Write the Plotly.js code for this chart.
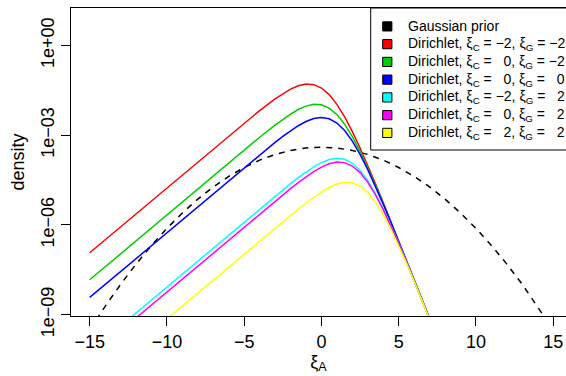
<!DOCTYPE html>
<html><head><meta charset="utf-8">
<script src="https://cdn.plot.ly/plotly-3.0.1.min.js"></script>
<style>html,body{margin:0;padding:0;background:#fff;} #chart{width:566px;height:376px;}</style>
</head><body><div id="chart"></div>
<script>
// x grid (xi_A) for the Dirichlet curves
const xiDir = [-15, -10, -6, -4, -3, -2.5, -2, -1.5, -1, -0.5, 0, 0.5, 1, 1.5, 2, 2.5, 3, 3.5, 4, 4.5, 5, 5.5, 6, 7, 8];
// log10(density)
const redLog10 = [-6.9305, -4.7591, -3.0253, -2.1782, -1.7858, -1.6106, -1.4606, -1.3486, -1.2922, -1.3112, -1.4246, -1.6441, -1.9691, -2.3880, -2.8814, -3.4296, -4.0152, -4.6255, -5.2514, -5.8873, -6.5292, -7.1748, -7.8227, -9.1222, -10.4238];
const greenLog10 = [-7.8323, -5.6608, -3.9257, -3.0699, -2.6608, -2.4691, -2.2932, -2.1419, -2.0283, -1.9693, -1.9851, -2.0947, -2.3100, -2.6313, -3.0467, -3.5378, -4.0841, -4.6687, -5.2782, -5.9037, -6.5393, -7.1809, -7.8263, -9.1236, -10.4242];
const blueLog10 = [-8.4229, -6.2514, -4.5157, -3.6563, -3.2400, -3.0411, -2.8537, -2.6845, -2.5437, -2.4455, -2.4082, -2.4522, -2.5948, -2.8446, -3.1977, -3.6397, -4.1505, -4.7108, -5.3044, -5.9199, -6.5491, -7.1870, -7.8301, -9.1250, -10.4247];
const cyanLog10 = [-10.2371, -8.0655, -6.3290, -5.4636, -5.0357, -4.8250, -4.6186, -4.4189, -4.2303, -4.0592, -3.9153, -3.8127, -3.7692, -3.8052, -3.9385, -4.1788, -4.5232, -4.9580, -5.4635, -6.0202, -6.6114, -7.2253, -7.8536, -9.1336, -10.4280];
const magentaLog10 = [-10.4049, -8.2334, -6.4967, -5.6311, -5.2026, -4.9913, -4.7839, -4.5827, -4.3916, -4.2163, -4.0663, -3.9544, -3.8979, -3.9170, -4.0304, -4.2498, -4.5749, -4.9937, -5.4872, -6.0354, -6.6210, -7.2313, -7.8572, -9.1350, -10.4285];
const yellowLog10 = [-11.3066, -9.1351, -7.3983, -6.5314, -6.1006, -5.8869, -5.6757, -5.4680, -5.2666, -5.0748, -4.8990, -4.7478, -4.6340, -4.5751, -4.5909, -4.7005, -4.9157, -5.2370, -5.6525, -6.1436, -6.6899, -7.2744, -7.8839, -9.1450, -10.4322];

// Gaussian prior
const xiGauss = [-15, -14, -13, -12, -11, -10, -9, -8, -7, -6, -5, -4, -3, -2, -1, 0, 1, 2, 3, 4, 5, 6, 7, 8, 9, 10, 11, 12, 13, 14, 15];
const gaussLog10 = [-9.507, -8.720, -7.987, -7.309, -6.684, -6.114, -5.599, -5.137, -4.730, -4.377, -4.079, -3.834, -3.644, -3.509, -3.427, -3.400, -3.427, -3.509, -3.644, -3.834, -4.079, -4.377, -4.730, -5.137, -5.599, -6.114, -6.684, -7.309, -7.987, -8.720, -9.507];

const seriesNames = [
  'Gaussian prior',
  'Dirichlet, ξ<sub>C</sub> = −2, ξ<sub>G</sub> = −2',
  'Dirichlet, ξ<sub>C</sub> = \u20070, ξ<sub>G</sub> = −2',
  'Dirichlet, ξ<sub>C</sub> = \u20070, ξ<sub>G</sub> = \u20070',
  'Dirichlet, ξ<sub>C</sub> = −2, ξ<sub>G</sub> = \u20072',
  'Dirichlet, ξ<sub>C</sub> = \u20070, ξ<sub>G</sub> = \u20072',
  'Dirichlet, ξ<sub>C</sub> = \u20072, ξ<sub>G</sub> = \u20072'
];
const seriesColors = ['#000000', '#FF0000', '#00CD00', '#0000FF', '#00FFFF', '#FF00FF', '#FFFF00'];
const dirSeries = [redLog10, greenLog10, blueLog10, cyanLog10, magentaLog10, yellowLog10];

const xTicks = [-15, -10, -5, 0, 5, 10, 15];
const xTickText = ['−15', '−10', '−5', '0', '5', '10', '15'];
const yTicks = [1e-9, 1e-6, 1e-3, 1];
const yTickText = ['1e−09', '1e−06', '1e−03', '1e+00'];

const toDensity = a => a.map(v => Math.pow(10, v));

const traces = [];
traces.push({x: xiGauss, y: toDensity(gaussLog10), mode: 'lines', showlegend: false,
  line: {color: '#000000', width: 1.5, dash: '6px,6px'}, hoverinfo: 'skip'});
dirSeries.forEach((s, i) => {
  traces.push({x: xiDir, y: toDensity(s), mode: 'lines', showlegend: false,
    line: {color: seriesColors[i + 1], width: 1.5}, hoverinfo: 'skip'});
});

// page geometry for the hand-drawn legend (R-style filled boxes)
const W = 566, H = 376, M = {l: 71, r: 0, t: 8, b: 60};
const pw = W - M.l - M.r, ph = H - M.t - M.b;
const px2x = p => (p - M.l) / pw;
const py2y = p => (H - M.b - p) / ph;
const legLeft = 370.7, legBottom = 150, rowTop = 26.4, rowStep = 17.75, boxCx = 387.3, boxHalf = 4.6, textLeft = 406;

const shapes = [{type: 'rect', xref: 'paper', yref: 'paper', layer: 'above',
  x0: px2x(legLeft), x1: px2x(W + 20), y0: py2y(legBottom), y1: py2y(M.t),
  line: {color: '#000000', width: 1}, fillcolor: 'white'}];
const annotations = [];
seriesNames.forEach((n, i) => {
  const cy = rowTop + rowStep * i;
  shapes.push({type: 'rect', xref: 'paper', yref: 'paper', layer: 'above',
    x0: px2x(boxCx - boxHalf), x1: px2x(boxCx + boxHalf), y0: py2y(cy + boxHalf), y1: py2y(cy - boxHalf),
    line: {color: '#000000', width: 1}, fillcolor: seriesColors[i]});
  annotations.push({xref: 'paper', yref: 'paper', x: px2x(textLeft), y: py2y(cy),
    xanchor: 'left', yanchor: 'middle', showarrow: false, text: n,
    font: {size: 14, color: '#000000'}});
});

const layout = {
  width: W, height: H,
  margin: {l: M.l, r: M.r, t: M.t, b: M.b, autoexpand: false},
  paper_bgcolor: 'white', plot_bgcolor: 'white',
  font: {family: 'Liberation Sans, Arial, sans-serif', size: 18, color: '#000000'},
  xaxis: {range: [-16.21, 15.83], tickvals: xTicks, ticktext: xTickText,
    ticks: 'outside', ticklen: 9, tickwidth: 1, tickcolor: '#000000',
    showline: true, linecolor: '#000000', linewidth: 1, mirror: true,
    showgrid: false, zeroline: false, automargin: false,
    title: {text: 'ξ<sub>A</sub>', font: {size: 18}, standoff: 1}},
  yaxis: {type: 'log', range: [-9.043, 1.251], tickvals: yTicks, ticktext: yTickText,
    tickangle: -90, ticks: 'outside', ticklen: 9, tickwidth: 1, tickcolor: '#000000',
    showline: true, linecolor: '#000000', linewidth: 1, mirror: false,
    showgrid: false, zeroline: false, automargin: false,
    title: {text: 'density', font: {size: 18}, standoff: 8}},
  shapes: shapes,
  annotations: annotations,
  showlegend: false
};

Plotly.newPlot('chart', traces, layout, {staticPlot: true, displayModeBar: false});
</script>
</body></html>
